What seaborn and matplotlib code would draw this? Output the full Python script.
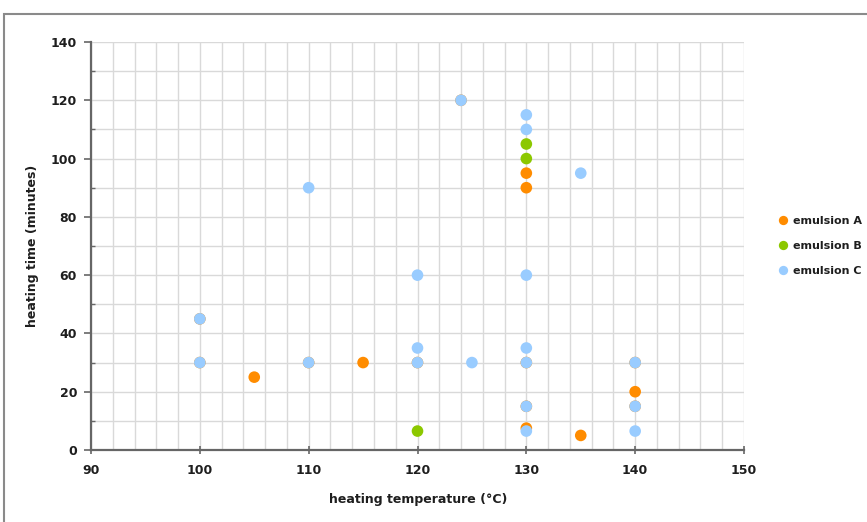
import matplotlib
matplotlib.use("Agg")
import matplotlib.pyplot as plt
import seaborn as sns
import pandas as pd
from matplotlib.patches import Rectangle
from matplotlib.ticker import MultipleLocator

# data
a_temp = [105, 115, 130, 130, 135, 140, 130, 100, 100, 110, 120, 124, 130, 130, 140, 140]
a_time = [25, 30, 95, 90, 5, 20, 7.5, 45, 30, 30, 30, 120, 30, 15, 30, 15]
b_temp = [120, 130, 130]
b_time = [6.5, 105, 100]
c_temp = [100, 100, 110, 110, 120, 120, 120, 124, 125, 130, 130, 130, 130, 130, 130, 130, 135, 140, 140, 140]
c_time = [45, 30, 90, 30, 60, 35, 30, 120, 30, 115, 110, 60, 35, 30, 15, 6.5, 95, 30, 15, 6.5]
series = ["emulsion A", "emulsion B", "emulsion C"]
colors = ["#ff8c00", "#8cc800", "#99ccff"]

df = pd.DataFrame({
    "temp": a_temp + b_temp + c_temp,
    "time": a_time + b_time + c_time,
    "series": [series[0]] * len(a_temp) + [series[1]] * len(b_temp) + [series[2]] * len(c_temp),
})

sns.set_style("white")
plt.rcParams["font.family"] = ["DejaVu Sans"]

FS = 9
TXT = "#1e1e1e"

fig = plt.figure(figsize=(8.67, 5.22), dpi=100)
ax = fig.add_axes([91 / 867, 1 - 450 / 522, (744 - 91) / 867, (450 - 42) / 522])

# outer frame
fig.add_artist(Rectangle((4 / 867, -0.05), 1.2, 1 - 14 / 522 + 0.05, transform=fig.transFigure,
                         fill=False, edgecolor="#8a8a8a", linewidth=1.5))

sns.scatterplot(data=df, x="temp", y="time", hue="series", hue_order=series,
                palette=colors, s=70, edgecolor="none", linewidth=0, ax=ax, zorder=3,
                clip_on=False)

ax.set_xlim(90, 150)
ax.set_ylim(0, 140)
ax.xaxis.set_major_locator(MultipleLocator(10))
ax.xaxis.set_minor_locator(MultipleLocator(2))
ax.yaxis.set_major_locator(MultipleLocator(20))
ax.yaxis.set_minor_locator(MultipleLocator(10))
ax.grid(True, which="both", color="#d9d9d9", linewidth=1.0, zorder=0)
ax.set_axisbelow(True)

for s in ["top", "right"]:
    ax.spines[s].set_visible(False)
for s in ["left", "bottom"]:
    ax.spines[s].set_color("#666666")
    ax.spines[s].set_linewidth(1.6)

ax.tick_params(axis="x", which="major", direction="inout", length=6, width=1.2, color="#666666",
               labelsize=FS, pad=7, bottom=True)
ax.tick_params(axis="x", which="minor", length=0)
ax.tick_params(axis="y", which="major", direction="out", length=5, width=1.2, color="#666666",
               labelsize=FS, pad=5, left=True)
ax.tick_params(axis="y", which="minor", direction="in", length=3, width=1, color="#666666", left=True)
for lab in ax.get_xticklabels() + ax.get_yticklabels():
    lab.set_fontweight("bold")
    lab.set_color(TXT)

ax.set_xlabel("heating temperature (°C)", fontsize=FS, fontweight="bold", color=TXT)
ax.set_ylabel("heating time (minutes)", fontsize=FS, fontweight="bold", color=TXT)
ax.xaxis.set_label_coords((418 - 91) / 653, (450 - 493) / 408)
ax.yaxis.set_label_coords((39 - 91) / 653, (450 - 246) / 408)

handles, labels = ax.get_legend_handles_labels()
leg = ax.legend(handles, labels, loc="center left", bbox_to_anchor=(776 / 867, 1 - 245.5 / 522),
                bbox_transform=fig.transFigure, frameon=False, handletextpad=0.25,
                handlelength=1.3, labelspacing=1.35, prop={"weight": "bold", "size": 8},
                markerscale=0.8, borderaxespad=0, borderpad=0)
for t in leg.get_texts():
    t.set_color(TXT)

fig.savefig("out.png", dpi=100)
